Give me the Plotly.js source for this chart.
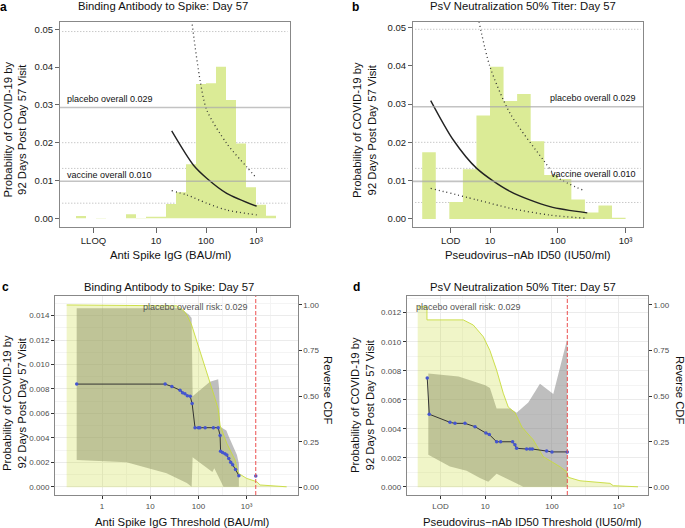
<!DOCTYPE html>
<html><head><meta charset="utf-8">
<script src="https://cdn.plot.ly/plotly-3.0.1.min.js"></script>
<style>body{margin:0;background:#fff}#chart{width:685px;height:528px}</style>
</head><body><div id="chart"></div>
<script>
// ---------- Panel a: Binding Antibody to Spike (histogram, log10 lower bin edges, width 0.2) ----------
const aBinLo = [-0.6,-0.4,-0.2,0.0,0.2,0.4,0.6,0.8,1.0,1.2,1.4,1.6,1.8,2.0,2.2,2.4,2.6,2.8,3.0,3.2];
const aBinH  = [0.0006,0,0.0001,0,0,0.0011,0.0001,0.0004,0.0004,0.0038,0.0069,0.0143,0.0355,0.0357,0.0401,0.0313,0.0198,0.0082,0.0036,0.0007];
const aSolidLog = [1.314,1.746,2.014,2.414,3.014];
const aSolid    = [0.0231,0.0141,0.0106,0.0066,0.0032];
const aUpLog    = [1.714,1.88,2.014,2.414,2.814,3.014];
const aUp       = [0.0523,0.0366,0.0287,0.0198,0.0136,0.0106];
const aLowLog   = [1.314,1.614,2.014,2.414,3.014];
const aLow      = [0.0073,0.0062,0.0040,0.0022,0.0009];
const aDotRefs  = [0.0494,0.0200,0.0132,0.0040];
const aTickLog  = [-0.25,1,2,3];
const aTickText = ['LLOQ','10','100','10\u00B3'];

// ---------- Panel b: PsV Neutralization ----------
const bBinLo = [0.0,0.2,0.4,0.6,0.8,1.0,1.2,1.4,1.6,1.8,2.0,2.2,2.4,2.6,2.8];
const bBinH  = [0.0174,0,0.0044,0.0130,0.0270,0.0397,0.0308,0.0326,0.0203,0.0115,0.0104,0.0051,0.0017,0.0035,0.0003];
const bSolidLog = [0.125,0.459,0.804,1.295,1.885,2.435];
const bSolid    = [0.0309,0.0206,0.0132,0.0072,0.0032,0.0016];
const bUpLog    = [0.838,1.0,1.295,1.786,1.984,2.386];
const bUp       = [0.0515,0.0397,0.0276,0.0154,0.0110,0.0074];
const bLowLog   = [0.125,0.804,1.295,1.885,2.401];
const bLow      = [0.0080,0.0050,0.0028,0.0010,0.0002];
const bDotRefs  = [0.0495,0.0200,0.0132,0.0043];
const bTickLog  = [0.42,1,2,3];
const bTickText = ['LOD','10','100','10\u00B3'];

// overall risks (a, b)
const placeboRisk = 0.0293, vaccineRisk = 0.0098;
const placeboLabel = 0.029, vaccineLabel = 0.010;

// ---------- Panel c: threshold curve, Binding Ab ----------
const cCdfLog = [-0.733,1.55,1.69,1.76,1.86,1.96,2.10,2.24,2.33,2.41,2.45,2.59,2.76,2.83,3.0,3.21,3.28,3.83];
const cCdf    = [1.0,0.995,0.97,0.945,0.89,0.808,0.698,0.58,0.50,0.43,0.34,0.24,0.15,0.077,0.049,0.031,0.013,0.003];
const cUpLog  = [-0.525,1.62,1.80,1.86,1.88,2.24,2.41,2.43,2.45,2.58,2.63,2.80,2.84];
const cUp     = [0.0146,0.0146,0.0141,0.0138,0.0074,0.0086,0.0088,0.0080,0.0049,0.0046,0.0041,0.0026,0.0019];
const cLoLog  = [-0.525,0.51,1.34,1.76,1.86,1.88,2.29,2.33,2.52,2.84];
const cLo     = [0.00218,0.0020,0.0011,0.0003,0,0.0024,0.0012,0.0015,0,0];
const cLineLog  = [-0.525,1.31,1.45,1.62,1.67,1.72,1.77,1.83,1.87,1.93,2.0,2.03,2.14,2.31,2.41,2.45,2.46,2.50,2.55,2.59,2.63,2.67,2.71,2.77,2.84];
const cLineRisk = [0.0084,0.0084,0.0082,0.0079,0.0077,0.0076,0.00745,0.0074,0.0068,0.00483,0.00483,0.00483,0.00483,0.00483,0.00483,0.0042,0.0029,0.0028,0.0027,0.0026,0.0023,0.0020,0.0018,0.0014,0.0009];
const cExtraLog = [3.19], cExtraRisk = [0.00087];
const cCutLog = 3.19;
const cTickLog = [0,1,2,3];
const cTickText = ['1','10','100','10\u00B3'];

// ---------- Panel d: threshold curve, PsV ----------
const dCdfLog = [-0.013,0.126,0.126,0.67,0.82,0.97,1.07,1.17,1.27,1.345,1.445,1.55,1.72,1.87,2.12,2.22,2.245,2.42,2.87,2.92,3.29];
const dCdf    = [0.99,0.99,0.918,0.918,0.89,0.826,0.75,0.643,0.516,0.44,0.41,0.33,0.26,0.168,0.113,0.086,0.055,0.036,0.022,0.009,0.003];
const dUpLog  = [0.146,0.6,1.0,1.07,1.17,1.37,1.47,1.645,1.82,2.02,2.23];
const dUp     = [0.0078,0.0076,0.0070,0.0068,0.0054,0.0054,0.0051,0.0058,0.0071,0.0064,0.0102];
const dLoLog  = [0.146,0.47,0.72,0.92,1.045,1.17,1.37,1.57,2.23];
const dLo     = [0.0022,0.0014,0.0011,0.0006,0.00034,0.0009,0.00046,0,0];
const dLineLog  = [0.130,0.160,0.471,0.546,0.696,0.846,1.01,1.06,1.17,1.23,1.41,1.445,1.47,1.62,1.67,1.705,1.92,2.0,2.23];
const dLineRisk = [0.0075,0.0050,0.00444,0.00437,0.00437,0.00414,0.0037,0.0036,0.0031,0.0031,0.0031,0.0029,0.00265,0.0026,0.0026,0.0026,0.00246,0.0024,0.0024];
const dCutLog = 2.23;
const dTickLog = [0.33,1,2,3];
const dTickText = ['LOD','10','100','10\u00B3'];
const placeboOverallRisk = 0.029;

// ---------- helpers ----------
const W = 685, H = 528;
const px = x => x / W, py = y => 1 - y / H;
const P = a => a.map(v => Math.pow(10, v));
const FONT = 'Liberation Sans, Arial, sans-serif';

function histTrace(lo, h, xa, ya) {
  const w = lo[1] - lo[0];
  const xs = P(lo.concat([lo[lo.length - 1] + w]));
  const ys = h.concat([h[h.length - 1]]);
  return {x: xs, y: ys, xaxis: xa, yaxis: ya, type: 'scatter', mode: 'lines',
    line: {shape: 'hv', width: 0, color: 'rgb(218,234,150)'}, fill: 'tozeroy',
    fillcolor: 'rgb(219,235,150)', hoverinfo: 'skip'};
}
function curve(lx, y, xa, ya, dash) {
  return {x: P(lx), y: y, xaxis: xa, yaxis: ya, type: 'scatter', mode: 'lines',
    line: {shape: 'spline', smoothing: 0.8, color: dash ? '#333' : '#222', width: dash ? 1.3 : 1.4, dash: dash ? '1px,3px' : 'solid'}};
}
function band(upL, up, loL, lo, xa, ya) {
  const xs = P(upL).concat(P(loL).slice().reverse());
  const ys = up.concat(lo.slice().reverse());
  return {x: xs, y: ys, xaxis: xa, yaxis: ya, type: 'scatter', mode: 'lines', fill: 'toself',
    fillcolor: 'rgba(125,125,125,0.5)', line: {width: 0}};
}
function cdfTrace(lx, y, xa, ya) {
  return {x: P(lx), y: y, xaxis: xa, yaxis: ya, type: 'scatter', mode: 'lines', fill: 'tozeroy',
    fillcolor: 'rgba(195,215,35,0.25)', line: {color: 'rgba(200,220,60,0.9)', width: 1}};
}
function riskLine(lx, y, xa, ya) {
  return {x: P(lx), y: y, xaxis: xa, yaxis: ya, type: 'scatter', mode: 'lines+markers',
    line: {color: '#333', width: 1}, marker: {color: '#4455d0', size: 3.5}};
}

// c, d: y3/y4 = risk (left, main, band); y5/y6 = reverse CDF (right, overlay); y7/y8 = risk (hidden overlay, line on top)
const traces = [
  histTrace(aBinLo, aBinH, 'x', 'y'),
  curve(aSolidLog, aSolid, 'x', 'y', false),
  curve(aUpLog, aUp, 'x', 'y', true),
  curve(aLowLog, aLow, 'x', 'y', true),
  histTrace(bBinLo, bBinH, 'x2', 'y2'),
  curve(bSolidLog, bSolid, 'x2', 'y2', false),
  curve(bUpLog, bUp, 'x2', 'y2', true),
  curve(bLowLog, bLow, 'x2', 'y2', true),
  band(cUpLog, cUp, cLoLog, cLo, 'x3', 'y3'),
  cdfTrace(cCdfLog, cCdf, 'x3', 'y5'),
  riskLine(cLineLog, cLineRisk, 'x3', 'y7'),
  {x: P(cExtraLog), y: cExtraRisk, xaxis: 'x3', yaxis: 'y7', type: 'scatter', mode: 'markers', marker: {color: '#4455d0', size: 3.5}},
  band(dUpLog, dUp, dLoLog, dLo, 'x4', 'y4'),
  cdfTrace(dCdfLog, dCdf, 'x4', 'y6'),
  riskLine(dLineLog, dLineRisk, 'x4', 'y8')
];

const topTick = {size: 9.5, color: '#222', family: FONT};
const botTick = {size: 8, color: '#4d4d4d', family: FONT};
function logX(dom, range, tl, tt, anchor, grid) {
  const o = {domain: dom, anchor: anchor, type: 'log', range: range, tickmode: 'array',
    tickvals: P(tl), ticktext: tt, ticks: 'outside', ticklen: grid ? 3 : 5, tickcolor: grid ? '#333' : '#666',
    tickfont: grid ? botTick : topTick, showline: true, mirror: true, linecolor: '#888', linewidth: 1,
    zeroline: false, showgrid: !!grid, gridcolor: '#ebebeb', gridwidth: 1};
  if (grid) o.minor = {tickmode: 'array', tickvals: P(tl.slice(0, -1).map((v, i) => (v + tl[i + 1]) / 2).concat([tl[tl.length - 1] + 0.5])), showgrid: true, gridcolor: '#f4f4f4', ticks: ''};
  return o;
}
const yTop = [py(227), py(22)];
const yBot = [py(495), py(296)];
const cRiskRange = [-0.00068, 0.01561], dRiskRange = [-0.00057, 0.01315];
const cdfRange = [-0.042, 1.049];
function riskAxis(anchor, range, vals) {
  return {domain: yBot, anchor: anchor, side: 'left', range: range, tickvals: vals, tickformat: '.3f',
    ticks: 'outside', ticklen: 3, tickcolor: '#333', tickfont: botTick, showline: true, mirror: true, linecolor: '#888',
    showgrid: true, gridcolor: '#ebebeb', zeroline: false,
    minor: {tickmode: 'array', tickvals: vals.map(v => v + 0.001), showgrid: true, gridcolor: '#f4f4f4', ticks: ''}};
}
function cdfAxis(over, anchor) {
  return {overlaying: over, anchor: anchor, side: 'right', range: cdfRange, tickvals: [0, 0.25, 0.5, 0.75, 1], tickformat: '.2f',
    ticks: 'outside', ticklen: 3, tickcolor: '#333', tickfont: botTick, showline: false, showgrid: false, zeroline: false};
}
const cRiskTicks = [0, 0.002, 0.004, 0.006, 0.008, 0.010, 0.012, 0.014];
const dRiskTicks = [0, 0.002, 0.004, 0.006, 0.008, 0.010, 0.012];

const layout = {
  width: W, height: H, margin: {l: 0, r: 0, t: 0, b: 0}, showlegend: false,
  paper_bgcolor: '#fff', plot_bgcolor: '#fff', font: {family: FONT, size: 11, color: '#111'},
  xaxis:  logX([px(60), px(290)], [-0.92, 3.68], aTickLog, aTickText, 'y', false),
  xaxis2: logX([px(413), px(643)], [-0.136, 3.257], bTickLog, bTickText, 'y2', false),
  xaxis3: logX([px(55), px(297.7)], [-0.975, 4.06], cTickLog, cTickText, 'y3', true),
  xaxis4: logX([px(406.7), px(648)], [-0.178, 3.44], dTickLog, dTickText, 'y4', true),
  yaxis:  {domain: yTop, anchor: 'x', range: [-0.0023, 0.05193], tickvals: [0, 0.01, 0.02, 0.03, 0.04, 0.05], tickformat: '.2f',
           ticks: 'outside', ticklen: 4, tickcolor: '#666', tickfont: topTick, showline: true, mirror: true, linecolor: '#888', showgrid: false, zeroline: false},
  yaxis2: {domain: yTop, anchor: 'x2', range: [-0.0021, 0.0514], tickvals: [0, 0.01, 0.02, 0.03, 0.04, 0.05], tickformat: '.2f',
           ticks: 'outside', ticklen: 4, tickcolor: '#666', tickfont: topTick, showline: true, mirror: true, linecolor: '#888', showgrid: false, zeroline: false},
  yaxis3: riskAxis('x3', cRiskRange, cRiskTicks),
  yaxis4: riskAxis('x4', dRiskRange, dRiskTicks),
  yaxis5: cdfAxis('y3', 'x3'),
  yaxis6: cdfAxis('y4', 'x4'),
  yaxis7: {overlaying: 'y3', anchor: 'x3', range: cRiskRange, visible: false},
  yaxis8: {overlaying: 'y4', anchor: 'x4', range: dRiskRange, visible: false},
  shapes: [], annotations: []
};

// dotted reference lines and overall-risk lines in a, b
[['x', 'y', aDotRefs], ['x2', 'y2', bDotRefs]].forEach(([xa, ya, refs]) => {
  refs.forEach(v => layout.shapes.push({type: 'line', xref: xa + ' domain', yref: ya, x0: 0.01, x1: 0.99, y0: v, y1: v,
    layer: 'below', line: {color: '#b0b0b0', width: 1, dash: '1px,2px'}}));
  [placeboRisk, vaccineRisk].forEach(v => layout.shapes.push({type: 'line', xref: xa + ' domain', yref: ya, x0: 0, x1: 1, y0: v, y1: v,
    layer: 'above', line: {color: 'rgba(170,170,170,0.7)', width: 1.6}}));
});
// cutoff lines in c, d
[['x3', 'y3', cCutLog], ['x4', 'y4', dCutLog]].forEach(([xa, ya, v]) => layout.shapes.push({type: 'line', xref: xa, yref: ya + ' domain',
  x0: Math.pow(10, v), x1: Math.pow(10, v), y0: 0, y1: 1, layer: 'above', line: {color: '#ec4f4f', width: 1, dash: '4px,2px'}}));

const ann = (x, y, text, o) => Object.assign({xref: 'paper', yref: 'paper', x: px(x), y: py(y), text: text, showarrow: false,
  xanchor: 'center', yanchor: 'middle', font: {size: 11.3, color: '#111', family: FONT}}, o || {});
const A = layout.annotations;
const bold = {size: 12, color: '#000', family: FONT, weight: 'bold'};
// panel letters
A.push(ann(4, 7, 'a', {font: bold}));
A.push(ann(355, 7, 'b', {font: bold}));
A.push(ann(5, 287, 'c', {font: bold}));
A.push(ann(356, 287, 'd', {font: bold}));
// titles
A.push(ann(163, 6, 'Binding Antibody to Spike: Day 57'));
A.push(ann(523, 6, 'PsV Neutralization 50% Titer: Day 57'));
A.push(ann(169, 287, 'Binding Antibody to Spike: Day 57'));
A.push(ann(523, 287, 'PsV Neutralization 50% Titer: Day 57'));
// x titles
A.push(ann(170, 255, 'Anti Spike IgG (BAU/ml)'));
A.push(ann(527.5, 255, 'Pseudovirus\u2212nAb ID50 (IU50/ml)'));
A.push(ann(183, 521.5, 'Anti Spike IgG Threshold (BAU/ml)'));
A.push(ann(532, 521.5, 'Pseudovirus\u2212nAb ID50 Threshold (IU50/ml)'));
// y titles
const yt = 'Probability of COVID-19 by<br>92 Days Post Day 57 Visit';
A.push(ann(14.5, 130, yt, {textangle: -90}));
A.push(ann(364, 130, yt, {textangle: -90}));
A.push(ann(14, 403, yt, {textangle: -90}));
A.push(ann(362, 405, yt, {textangle: -90}));
A.push(ann(328, 390, 'Reverse CDF', {textangle: 90}));
A.push(ann(680, 390, 'Reverse CDF', {textangle: 90}));
// overall labels (a, b)
const sm = {size: 9, color: '#111', family: FONT};
A.push(ann(65, 99, 'placebo overall ' + placeboLabel.toFixed(3), {xanchor: 'left', font: sm}));
A.push(ann(65, 174.5, 'vaccine overall ' + vaccineLabel.toFixed(3), {xanchor: 'left', font: sm}));
A.push(ann(638, 98.5, 'placebo overall ' + placeboLabel.toFixed(3), {xanchor: 'right', font: sm}));
A.push(ann(638, 174, 'vaccine overall ' + vaccineLabel.toFixed(3), {xanchor: 'right', font: sm}));
// placebo risk labels (c, d)
const gs = {size: 9, color: '#555', family: FONT};
A.push(ann(195, 306.5, 'placebo overall risk: ' + placeboOverallRisk.toFixed(3), {font: gs}));
A.push(ann(468.5, 306.5, 'placebo overall risk: ' + placeboOverallRisk.toFixed(3), {font: gs}));

Plotly.newPlot('chart', traces, layout, {staticPlot: true, displayModeBar: false});
</script>
</body></html>
